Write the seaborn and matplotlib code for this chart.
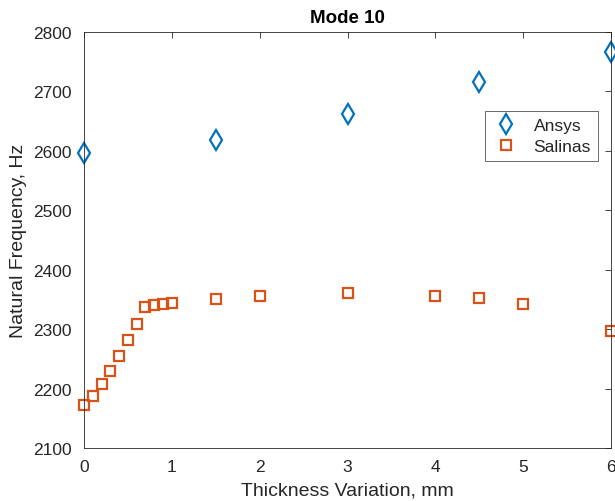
import matplotlib
matplotlib.use("Agg")
import matplotlib.pyplot as plt
import seaborn as sns
import pandas as pd

# values
ansys_thickness = [0, 1.5, 3, 4.5, 6]
ansys_freq = [2597, 2619, 2662, 2716, 2766]

salinas_thickness = [0, 0.1, 0.2, 0.3, 0.4, 0.5, 0.6, 0.7, 0.8, 0.9, 1.0,
                     1.5, 2, 3, 4, 4.5, 5, 6]
salinas_freq = [2172, 2187, 2207, 2229, 2255, 2282, 2308, 2337, 2340, 2342, 2344,
                2350, 2356, 2360, 2356, 2352, 2342, 2297]

x_ticks = [0, 1, 2, 3, 4, 5, 6]
y_ticks = [2100, 2200, 2300, 2400, 2500, 2600, 2700, 2800]

sns.set_style("white")
plt.rcParams["font.family"] = ["Liberation Sans", "DejaVu Sans"]

ansys = pd.DataFrame({"thickness": ansys_thickness, "freq": ansys_freq})
salinas = pd.DataFrame({"thickness": salinas_thickness, "freq": salinas_freq})

fig = plt.figure(figsize=(6.15, 5.02), dpi=100)
ax = fig.add_axes([84 / 615, 1 - 449 / 502, (611 - 84) / 615, (449 - 33) / 502])

grey = "#262626"
sns.lineplot(data=ansys, x="thickness", y="freq", ax=ax, linestyle="none",
             marker="d", markersize=10, markerfacecolor="none",
             markeredgecolor="#0072BD", markeredgewidth=1.6, color="#0072BD",
             label="Ansys", clip_on=False)
sns.lineplot(data=salinas, x="thickness", y="freq", ax=ax, linestyle="none",
             marker="s", markersize=7.5, markerfacecolor="none",
             markeredgecolor="#D95319", markeredgewidth=1.6, color="#D95319",
             label="Salinas", clip_on=False)

ax.set_xlim(0, 6)
ax.set_ylim(2100, 2800)
ax.set_xticks(x_ticks)
ax.set_yticks(y_ticks)
ax.tick_params(direction="in", top=True, right=True, length=4, width=0.6,
               colors=grey, labelsize=12.5)
ax.tick_params(axis="x", pad=8)
ax.tick_params(axis="y", pad=9)
for s in ax.spines.values():
    s.set_color(grey)
    s.set_linewidth(0.6)

ax.set_xlabel("Thickness Variation, mm", fontsize=14, color=grey, labelpad=5)
ax.set_ylabel("Natural Frequency, Hz", fontsize=14, color=grey, labelpad=4)
ax.set_title("Mode 10", fontsize=13.5, fontweight="bold", color="black", pad=7)

leg = ax.legend(loc="upper right", bbox_to_anchor=(0.975, 0.81), borderaxespad=0,
                fontsize=12.5, frameon=True, fancybox=False, edgecolor=grey,
                handlelength=1.6, borderpad=0.4, labelspacing=0.35)
leg.get_frame().set_linewidth(0.6)

fig.savefig("out.png", dpi=100)
